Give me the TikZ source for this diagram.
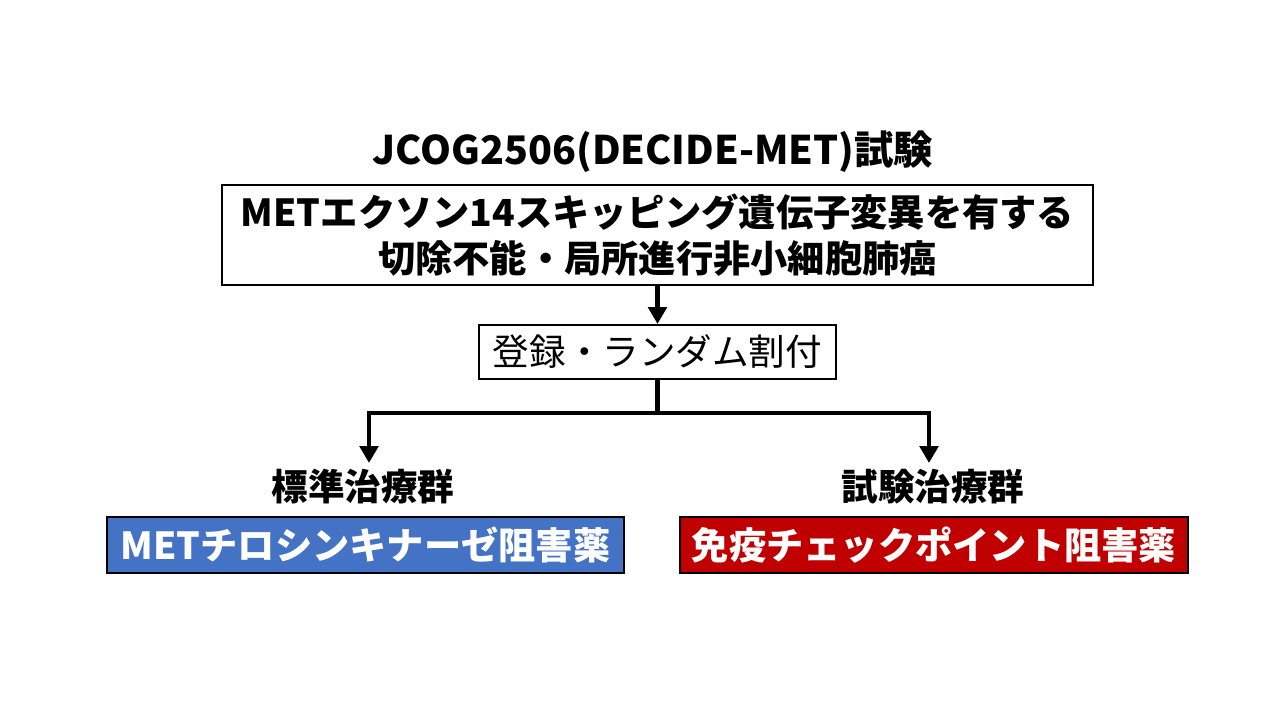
\documentclass[tikz,border=0pt]{standalone}
\usepackage{fontspec}
\setmainfont{Noto Sans CJK JP}
\usetikzlibrary{arrows.meta, positioning}

\definecolor{armblue}{HTML}{4472C4}
\definecolor{armred}{HTML}{C00000}

\begin{document}
\begin{tikzpicture}[
    x=0.025cm, y=-0.025cm,
    box/.style={draw, line width=1.4pt, inner sep=0pt, font=\fontsize{26}{33}\selectfont},
    arm/.style={box, text=white, font=\fontsize{26.5}{33}\selectfont\bfseries,
        minimum height=1.4cm},
    link/.style={line width=3.4pt},
    tip/.style={link, -{Triangle[length=12pt, width=13pt]}}
]
    % 背景と余白
    \useasboundingbox (0,0) rectangle (1280,720);

    % 試験名と対象
    \node[font=\fontsize{28}{33}\selectfont\bfseries] (title) at (653,152) {JCOG2506(DECIDE-MET)試験};
    \node[box, font=\fontsize{26.5}{33}\selectfont\bfseries, align=center,
        minimum width=21.78cm, minimum height=2.5cm] (elig) at (657.5,235)
        {METエクソン14スキッピング遺伝子変異を有する\\切除不能・局所進行非小細胞肺癌};

    % 登録
    \node[box, minimum width=8.93cm, minimum height=1.35cm] (reg) at (657.5,352) {登録・ランダム割付};
    \draw[tip] (elig.south) -- (reg.north);

    % 2群への割付
    \coordinate (split) at (reg.south |- 0,413);
    \coordinate (stdend) at (369,463);
    \coordinate (expend) at (929,463);
    \draw[link] (reg.south) -- (split);
    \draw[tip] (split) -| (stdend);
    \draw[tip] (split) -| (expend);

    \node[font=\fontsize{26}{33}\selectfont\bfseries] (stdlab) at (363,487) {標準治療群};
    \node[font=\fontsize{26}{33}\selectfont\bfseries] (explab) at (933,487) {試験治療群};

    \node[arm, fill=armblue, minimum width=12.93cm] (tki) at (365.5,545) {METチロシンキナーゼ阻害薬};
    \node[arm, fill=armred, minimum width=12.7cm] (ici) at (934,545) {免疫チェックポイント阻害薬};
\end{tikzpicture}
\end{document}
